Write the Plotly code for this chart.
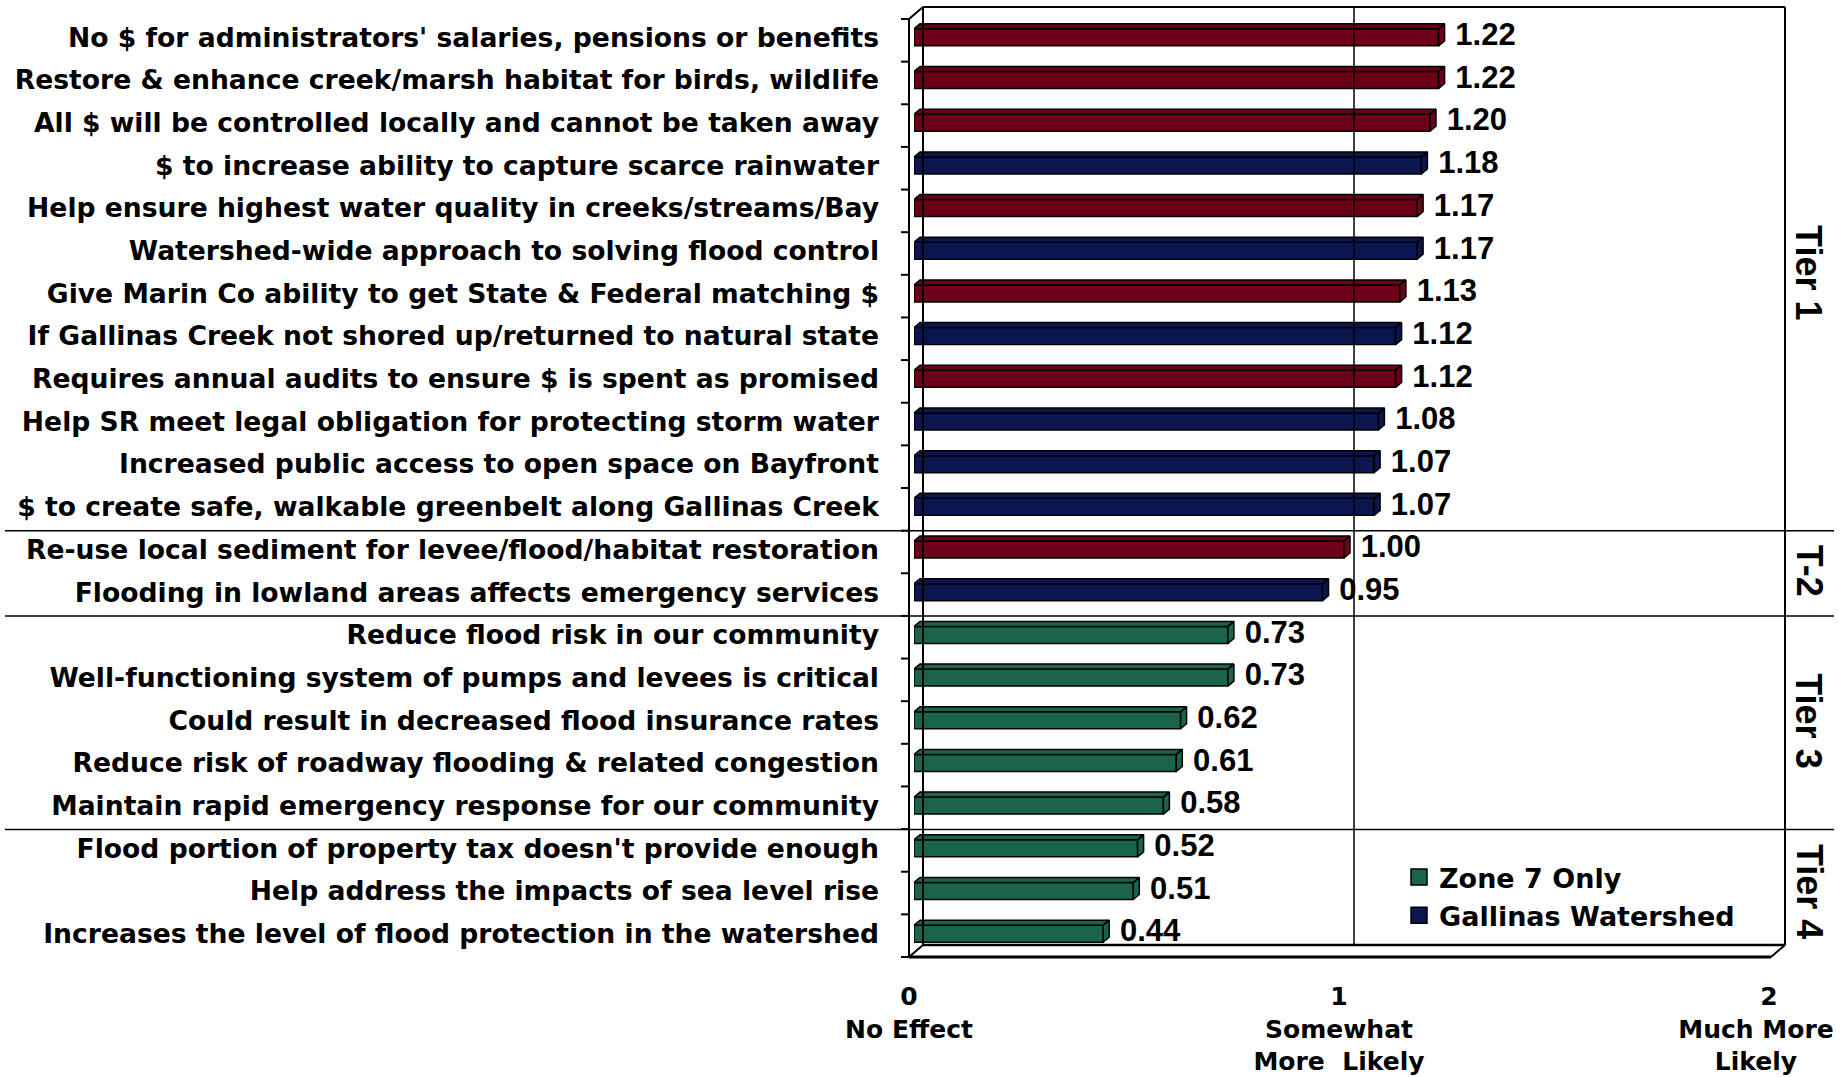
import plotly.graph_objects as go

# ---------------- data ----------------
categories = [
    "No $ for administrators' salaries, pensions or benefits",
    "Restore & enhance creek/marsh habitat for birds, wildlife",
    "All $ will be controlled locally and cannot be taken away",
    "$ to increase ability to capture scarce rainwater",
    "Help ensure highest water quality in creeks/streams/Bay",
    "Watershed-wide approach to solving flood control",
    "Give Marin Co ability to get State & Federal matching $",
    "If Gallinas Creek not shored up/returned to natural state",
    "Requires annual audits to ensure $ is spent as promised",
    "Help SR meet legal obligation for protecting storm water",
    "Increased public access to open space on Bayfront",
    "$ to create safe, walkable greenbelt along Gallinas Creek",
    "Re-use local sediment for levee/flood/habitat restoration",
    "Flooding in lowland areas affects emergency services",
    "Reduce flood risk in our community",
    "Well-functioning system of pumps and levees is critical",
    "Could result in decreased flood insurance rates",
    "Reduce risk of roadway flooding & related congestion",
    "Maintain rapid emergency response for our community",
    "Flood portion of property tax doesn't provide enough",
    "Help address the impacts of sea level rise",
    "Increases the level of flood protection in the watershed",
]
values = [1.22, 1.22, 1.20, 1.18, 1.17, 1.17, 1.13, 1.12, 1.12, 1.08, 1.07, 1.07,
          1.00, 0.95,
          0.73, 0.73, 0.62, 0.61, 0.58,
          0.52, 0.51, 0.44]
groups = ["county", "county", "county", "watershed", "county", "watershed", "county",
          "watershed", "county", "watershed", "watershed", "watershed",
          "county", "watershed",
          "zone7", "zone7", "zone7", "zone7", "zone7",
          "zone7", "zone7", "zone7"]
series_names = {"county": "Countywide", "zone7": "Zone 7 Only", "watershed": "Gallinas Watershed"}
tier_names = ["Tier 1", "T-2", "Tier 3", "Tier 4"]
tier_first_row = [0, 12, 14, 19]
tier_last_row = [11, 13, 18, 21]
x_tick_vals = [0, 1, 2]
x_tick_text = ["0<br>No Effect",
               "1<br>Somewhat<br>More  Likely",
               "&nbsp;&nbsp;&nbsp;2<br>Much More<br>Likely"]

# ---------------- style ----------------
COLORS = {"county": "#6C0019", "watershed": "#0B1650", "zone7": "#1A6449"}
WIDE = "DejaVu Sans, Verdana, sans-serif"
ARIAL = "Liberation Sans, Arial, sans-serif"
W, H = 1841, 1077
L, R, T, B = 914, 67, 16, 122
PW, PH = W - L - R, H - T - B
N = len(categories)
ROW = PH / N
BAR_W = 17 / ROW
DX = 6 / (PW / 2.0)        # 3D depth in x units
DY = 5 / ROW               # 3D depth in row units


def px_x(p):
    return (p - L) / PW


def px_y(p):
    return 1 - (p - T) / PH


fig = go.Figure()

for key in ["county", "zone7", "watershed"]:
    idx = [i for i, g in enumerate(groups) if g == key]
    xs = [values[i] for i in idx]
    fig.add_trace(go.Bar(
        y=idx, x=xs, orientation="h", width=BAR_W,
        name=series_names[key], legendgroup=key, showlegend=False,
        marker=dict(color=COLORS[key], line=dict(color="black", width=1.5)),
        hoverinfo="x",
    ))
    # 3D top and side faces built from the same values
    px_, py_ = [], []
    for i in idx:
        v = values[i]
        top = i - BAR_W / 2
        bot = i + BAR_W / 2
        px_ += [0, v, v + DX, DX, 0, None]
        py_ += [top, top, top - DY, top - DY, top, None]
        px_ += [v, v + DX, v + DX, v, v, None]
        py_ += [top, top - DY, bot - DY, bot, top, None]
    fig.add_trace(go.Scatter(
        x=px_, y=py_, mode="lines", fill="toself", fillcolor=COLORS[key],
        line=dict(color="black", width=1.5), showlegend=False, hoverinfo="skip",
        legendgroup=key,
    ))

# legend entries (square swatches) for the two named series
for key in ["zone7", "watershed"]:
    fig.add_trace(go.Scatter(
        x=[None], y=[None], mode="markers", name=series_names[key], legendgroup=key,
        marker=dict(symbol="square", size=16, color=COLORS[key], line=dict(color="black", width=1.5)),
        showlegend=True, hoverinfo="skip",
    ))

# value labels
fig.add_trace(go.Scatter(
    x=[v + DX + 0.025 for v in values], y=list(range(N)),
    text=[f"{v:.2f}" for v in values], mode="text", textposition="middle right",
    textfont=dict(family=ARIAL, size=31, color="black", weight="bold"),
    showlegend=False, hoverinfo="skip", cliponaxis=False,
))

# helper trace so the secondary x axis (carrying the last tick) exists
fig.add_trace(go.Scatter(x=[None], y=[None], xaxis="x2", yaxis="y",
                         showlegend=False, hoverinfo="skip"))

shapes = []


def seg(x0, y0, x1, y1, width=2):
    shapes.append(dict(type="line", xref="paper", yref="paper",
                       x0=px_x(x0), x1=px_x(x1), y0=px_y(y0), y1=px_y(y1),
                       line=dict(color="black", width=width)))


# back wall
seg(923, 7, 1785, 7)
seg(1785, 7, 1785, 945)
seg(923, 7, 923, 945)
# gridline at 1 on the back wall
seg(1354, 7, 1354, 945, 1.5)
# front axis with ticks at category boundaries
seg(909, 19, 909, 957)
seg(909, 19, 923, 7)
for k in range(N + 1):
    yy = 19 + k * (957 - 19) / N
    seg(901, yy, 909, yy)
# floor
seg(909, 957, 1771, 957, 3)
seg(923, 945, 1785, 945, 2.5)
seg(909, 957, 923, 945)
seg(1771, 957, 1785, 945)
# tier separators
for first in tier_first_row[1:]:
    yb = first - 0.5 + 0.06
    shapes.append(dict(type="line", xref="paper", yref="y", x0=px_x(5), x1=px_x(1834),
                       y0=yb, y1=yb, line=dict(color="black", width=1.5)))

annotations = []
for name, a, b in zip(tier_names, tier_first_row, tier_last_row):
    annotations.append(dict(
        x=px_x(1809), xref="paper", y=(a + b) / 2, yref="y", text=name, showarrow=False,
        textangle=90, font=dict(family=ARIAL, size=36, color="black", weight="bold"),
        xanchor="center", yanchor="middle",
    ))

xfont = dict(family=WIDE, size=25, color="black", weight="bold")
common_x = dict(range=[0, 2], showgrid=False, zeroline=False, showline=False, ticks="",
                tickfont=xfont, ticklabelstandoff=24, ticklabeloverflow="allow",
                automargin=False, fixedrange=True)

fig.update_layout(
    width=W, height=H,
    margin=dict(l=L, r=R, t=T, b=B),
    paper_bgcolor="white", plot_bgcolor="white",
    barmode="overlay",
    showlegend=True,
    legend=dict(
        x=px_x(1399), y=px_y(853), xanchor="left", yanchor="top",
        bgcolor="rgba(0,0,0,0)", traceorder="normal",
        font=dict(family=WIDE, size=27, color="black", weight="bold"),
    ),
    shapes=shapes,
    annotations=annotations,
    xaxis=dict(tickvals=x_tick_vals[:2], ticktext=x_tick_text[:2], ticklabelshift=-5, **common_x),
    xaxis2=dict(tickvals=x_tick_vals[2:], ticktext=x_tick_text[2:], ticklabelshift=-18,
                overlaying="x", anchor="y", side="bottom", **common_x),
    yaxis=dict(
        range=[N - 0.5, -0.5], tickvals=list(range(N)), ticktext=categories,
        showgrid=False, zeroline=False, showline=False, ticks="",
        tickfont=dict(family=WIDE, size=26.6, color="black", weight="bold"),
        ticklabelstandoff=34, automargin=False, fixedrange=True,
    ),
)

fig.write_html("out.html", config={"displayModeBar": False},
               post_script="document.body.style.margin='0px';")
